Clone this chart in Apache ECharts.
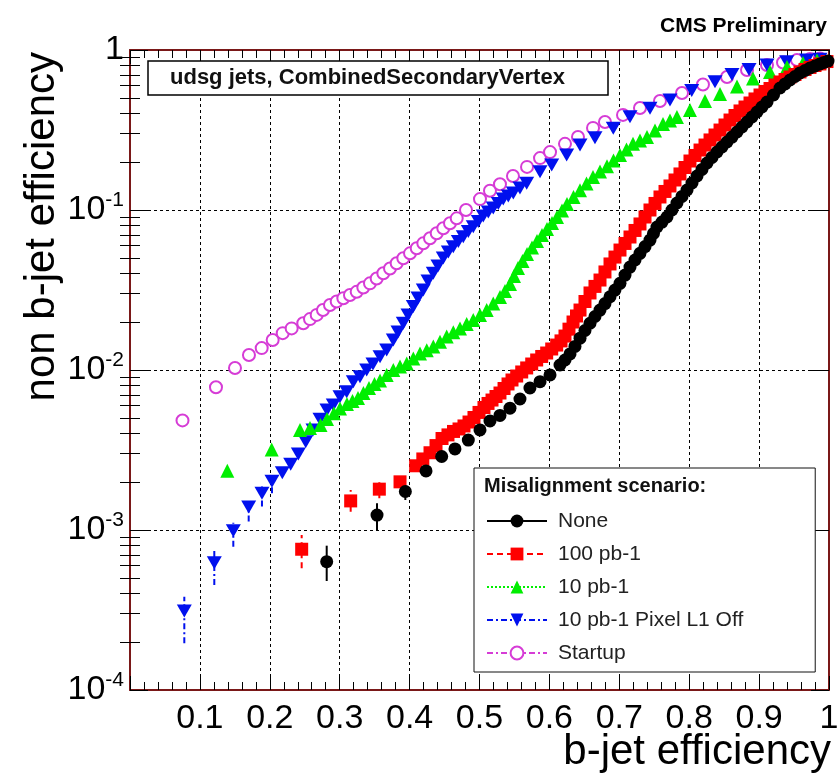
<!DOCTYPE html>
<html>
<head>
<meta charset="utf-8">
<script src="https://cdn.jsdelivr.net/npm/echarts@6/dist/echarts.min.js"></script>
<style>
  html, body { margin: 0; padding: 0; background: #fff; }
  #main { width: 837px; height: 778px; }
</style>
</head>
<body>
<div id="main"></div>
<script>
// [b-jet efficiency, non b-jet efficiency]
var noneData = [[0.2814,0.000634],[0.3534,0.00124],[0.3939,0.00174],[0.4235,0.00234],[0.4459,0.00288],[0.4649,0.00321],
  [0.4840,0.00365],[0.5007,0.00422],[0.5150,0.0048],[0.5293,0.0052],[0.5436,0.00577],[0.5579,0.00659],[0.5722,0.00772],
  [0.5866,0.00845],[0.6009,0.00931],[0.6152,0.01075],[0.6223,0.01155],[0.6295,0.0126],[0.6366,0.01403],[0.6438,0.0158],
  [0.6509,0.01766],[0.6581,0.0196],[0.6652,0.0216],[0.6724,0.0237],[0.6795,0.026],[0.6867,0.0287],[0.6938,0.0316],
  [0.7010,0.0348],[0.7082,0.0392],[0.7153,0.044],[0.7225,0.0487],[0.7296,0.0536],[0.7368,0.0591],[0.7439,0.0649],
  [0.7489,0.0713],[0.7539,0.0783],[0.7611,0.0841],[0.7682,0.0904],[0.7754,0.1],[0.7825,0.1106],[0.7897,0.1215],
  [0.7969,0.1334],[0.8040,0.1475],[0.8112,0.1631],[0.8183,0.1792],[0.8255,0.1967],[0.8326,0.213],[0.8398,0.2304],
  [0.8469,0.2477],[0.8541,0.2661],[0.8612,0.2858],[0.8684,0.3073],[0.8755,0.3303],[0.8827,0.3548],[0.8898,0.3814],
  [0.8970,0.4097],[0.9041,0.4402],[0.9113,0.4732],[0.9206,0.5233],[0.9299,0.5786],[0.9371,0.6134],[0.9442,0.6494],
  [0.9514,0.6829],[0.9585,0.7186],[0.9657,0.7443],[0.9728,0.7718],[0.9800,0.7943],[0.9871,0.818],[0.9928,0.8353],
  [0.9986,0.853]];
var noneErr = [[0.2814,0.00048,0.000798],[0.3534,0.001,0.00147],[0.3939,0.00154,0.00191]];

var hundredData = [[0.2456,0.000758],[0.3157,0.00152],[0.3567,0.0018],[0.3863,0.002],[0.4087,0.00252],[0.4189,0.00278],
  [0.4292,0.00304],[0.4378,0.00337],[0.4464,0.00373],[0.4549,0.00393],[0.4628,0.00413],[0.4707,0.00428],[0.4778,0.00447],
  [0.4850,0.00473],[0.4921,0.00505],[0.4993,0.00543],[0.5064,0.00583],[0.5122,0.00618],[0.5179,0.00649],[0.5236,0.00683],
  [0.5293,0.00718],[0.5351,0.00766],[0.5408,0.00818],[0.5465,0.00866],[0.5532,0.00917],[0.5604,0.00972],[0.5675,0.0103],
  [0.5747,0.0109],[0.5818,0.01155],[0.5890,0.01215],[0.5961,0.01277],[0.6033,0.01353],[0.6104,0.01432],[0.6166,0.0152],
  [0.6223,0.0163],[0.6280,0.018],[0.6338,0.01995],[0.6388,0.02176],[0.6438,0.0237],[0.6509,0.0268],[0.6581,0.0303],
  [0.6652,0.0333],[0.6724,0.0365],[0.6795,0.041],[0.6867,0.046],[0.6938,0.0508],[0.7010,0.0562],[0.7082,0.0618],
  [0.7153,0.0678],[0.7225,0.0745],[0.7296,0.0818],[0.7368,0.0904],[0.7439,0.1],[0.7511,0.1099],[0.7582,0.1206],
  [0.7654,0.1306],[0.7725,0.1413],[0.7797,0.154],[0.7868,0.168],[0.7940,0.1844],[0.8011,0.2024],[0.8083,0.2192],
  [0.8155,0.237],[0.8226,0.2547],[0.8298,0.274],[0.8369,0.2942],[0.8441,0.316],[0.8512,0.3398],[0.8584,0.365],
  [0.8655,0.3896],[0.8727,0.4159],[0.8798,0.4402],[0.8870,0.4664],[0.8941,0.4943],[0.9013,0.5233],[0.9084,0.5506],
  [0.9156,0.5744],[0.9227,0.6043],[0.9299,0.631],[0.9371,0.6543],[0.9442,0.678],[0.9514,0.7031],[0.9585,0.729],
  [0.9657,0.7551],[0.9728,0.778],[0.9800,0.800],[0.9871,0.818],[0.9971,0.847]];
var hundredErr = [[0.2456,0.000576,0.000931],[0.3157,0.0013,0.00178],[0.3567,0.00158,0.00205]];

var tenData = [[0.1392,0.00235],[0.2027,0.00319],[0.2432,0.00422],[0.2575,0.00434],[0.2725,0.00453],[0.2818,0.00494],
  [0.2918,0.00536],[0.3004,0.00575],[0.3104,0.00613],[0.3183,0.0064],[0.3262,0.00668],[0.3340,0.00718],[0.3419,0.00772],
  [0.3498,0.00818],[0.3577,0.0086],[0.3672,0.00931],[0.3767,0.01],[0.3863,0.0105],[0.3959,0.011],[0.4053,0.0118],
  [0.4149,0.0127],[0.4245,0.0133],[0.4339,0.014],[0.4435,0.015],[0.4531,0.0162],[0.4625,0.0172],[0.4721,0.0182],
  [0.4817,0.0194],[0.4911,0.0205],[0.5007,0.0221],[0.5103,0.0237],[0.5197,0.026],[0.5293,0.0286],[0.5365,0.0312],
  [0.5436,0.0345],[0.5494,0.0387],[0.5551,0.0434],[0.5615,0.048],[0.5680,0.0531],[0.5751,0.0583],[0.5823,0.064],
  [0.5894,0.0698],[0.5966,0.0761],[0.6037,0.0829],[0.6109,0.0904],[0.6180,0.0993],[0.6252,0.109],[0.6345,0.1206],
  [0.6438,0.133],[0.6531,0.1465],[0.6624,0.161],[0.6724,0.174],[0.6824,0.188],[0.6917,0.2039],[0.7010,0.221],
  [0.7103,0.2388],[0.7196,0.259],[0.7296,0.2718],[0.7396,0.286],[0.7511,0.314],[0.7625,0.345],[0.7725,0.3624],
  [0.7825,0.381],[0.8011,0.422],[0.8226,0.480],[0.8441,0.531],[0.8684,0.592],[0.8913,0.663],[0.9156,0.729],
  [0.9399,0.783],[0.9628,0.829],[0.9828,0.860]];

var pixelOffData = [[0.0777,0.000312],[0.1206,0.000625],[0.1478,0.00099],[0.1698,0.00139],[0.1888,0.0017],[0.2031,0.00202],
  [0.2179,0.00228],[0.2299,0.00258],[0.2408,0.00299],[0.2514,0.00356],[0.2618,0.00422],[0.2718,0.00492],[0.2818,0.00562],
  [0.2908,0.00604],[0.3004,0.00681],[0.3100,0.00732],[0.3195,0.00845],[0.3290,0.00908],[0.3386,0.01],[0.3476,0.0109],
  [0.3577,0.0121],[0.3672,0.01334],[0.3767,0.0154],[0.3834,0.01728],[0.3910,0.0196],[0.3977,0.0221],[0.4053,0.0249],
  [0.4120,0.0282],[0.4196,0.0316],[0.4263,0.036],[0.4339,0.0402],[0.4406,0.0447],[0.4482,0.0501],[0.4554,0.0546],
  [0.4625,0.059],[0.4697,0.0636],[0.4768,0.0681],[0.4840,0.0734],[0.4911,0.0787],[0.4983,0.0848],[0.5054,0.0917],
  [0.5126,0.0972],[0.5197,0.1029],[0.5269,0.1099],[0.5340,0.1172],[0.5412,0.1224],[0.5484,0.1277],[0.5579,0.1373],
  [0.5675,0.1468],[0.5866,0.1735],[0.6033,0.191],[0.6247,0.2208],[0.6438,0.2547],[0.6652,0.283],[0.6914,0.3243],
  [0.7153,0.383],[0.7439,0.4325],[0.7725,0.487],[0.8036,0.558],[0.8369,0.634],[0.8612,0.703],[0.8856,0.755],
  [0.9113,0.806],[0.9395,0.845],[0.9681,0.866],[0.9871,0.875]];
var pixelOffErr = [[0.0777,0.000196,0.000383],[0.1206,0.000453,0.00075],[0.1478,0.000787,0.00111],
  [0.1698,0.00113,0.0015],[0.1888,0.0014,0.00187],[0.2031,0.0017,0.00221]];

var startupData = [[0.0751,0.00484],[0.1230,0.0078],[0.1502,0.0103],[0.1702,0.0124],[0.1884,0.0137],[0.2041,0.0154],
  [0.2185,0.0170],[0.2313,0.0182],[0.2479,0.0196],[0.2575,0.0208],[0.2671,0.0221],[0.2761,0.0237],[0.2861,0.0255],
  [0.2957,0.0268],[0.3052,0.0281],[0.3147,0.0294],[0.3243,0.0308],[0.3338,0.0328],[0.3433,0.0348],[0.3529,0.0373],
  [0.3624,0.0402],[0.3720,0.0431],[0.3815,0.0465],[0.3910,0.0499],[0.4006,0.0536],[0.4102,0.0577],[0.4196,0.0619],
  [0.4292,0.0666],[0.4388,0.0715],[0.4482,0.0769],[0.4578,0.0826],[0.4674,0.0887],[0.4807,0.100],[0.5007,0.117],
  [0.5150,0.132],[0.5293,0.145],[0.5479,0.163],[0.5680,0.186],[0.5866,0.211],[0.6009,0.230],[0.6223,0.259],
  [0.6409,0.286],[0.6624,0.326],[0.6795,0.355],[0.7053,0.393],[0.7296,0.434],[0.7582,0.480],[0.7897,0.539],
  [0.8197,0.609],[0.8541,0.678],[0.8827,0.750],[0.9113,0.806],[0.9342,0.835],[0.9542,0.866],[0.9728,0.878],
  [0.9871,0.885]];

var legendNames = ['None', '100 pb-1', '10 pb-1', '10 pb-1 Pixel L1 Off', 'Startup'];

var FONT = 'Arial, "Liberation Sans", Helvetica, sans-serif';
var frameColor = '#7a1818';
var cBlack = '#000000', cRed = '#ff0000', cGreen = '#00ee00', cBlue = '#0010ee', cMagenta = '#d63cd6';
var dashed = [6, 4], dotted = [2, 2], dashDot = [6, 3, 2, 3];

// minor ticks of the log axis, as exponents
var minorExp = [];
for (var k = -4; k < 0; k++) {
  for (var m = 2; m <= 9; m++) minorExp.push(k + Math.log10(m));
}

var myChart = echarts.init(document.getElementById('main'));

function markers(name, data, symbol, size, color, z) {
  return {
    name: name, type: 'line', data: data, z: z,
    symbol: symbol, symbolSize: size, showAllSymbol: true,
    lineStyle: { width: 0, opacity: 0 },
    itemStyle: { color: color, borderWidth: symbol === 'emptyCircle' ? 1.2 : 0, borderColor: color },
    emphasis: { disabled: true }, silent: true
  };
}

function errors(name, data, color, dash, z) {
  return {
    name: name, type: 'custom', data: data, z: z, silent: true,
    encode: { x: 0, y: [1, 2] },
    renderItem: function (params, api) {
      var a = api.coord([api.value(0), api.value(1)]);
      var b = api.coord([api.value(0), api.value(2)]);
      return {
        type: 'line',
        shape: { x1: a[0], y1: a[1], x2: b[0], y2: b[1] },
        style: { stroke: color, lineWidth: 2, lineDash: dash }
      };
    }
  };
}

function legendItem(name, color, dash) {
  return { name: name, lineStyle: { color: color, width: 2, type: dash, opacity: 1 } };
}

var gridDash = { color: '#000', width: 1, type: [3, 3] };

var xCommon = {
  type: 'value', min: 0, max: 1, interval: 0.1, gridIndex: 0,
  axisLine: { show: true, onZero: false, lineStyle: { color: frameColor, width: 2 } },
  axisTick: { show: true, inside: true, length: 14, lineStyle: { color: '#000', width: 1 } },
  minorTick: { show: true, splitNumber: 5, length: 8, lineStyle: { color: '#000', width: 1 } }
};

var option = {
  animation: false,
  backgroundColor: '#fff',
  grid: { left: 130, right: 8, top: 50, bottom: 88, containLabel: false, outerBoundsMode: 'none' },
  title: [
    {
      text: 'CMS Preliminary', right: 5, top: 11, z: 20,
      textStyle: { fontSize: 21, fontWeight: 'bold', fontFamily: FONT, color: '#000' }
    },
    {
      text: 'udsg jets, CombinedSecondaryVertex', left: 148, top: 61, z: 20,
      padding: [6, 43, 6, 22], borderColor: '#000', borderWidth: 1.5, backgroundColor: '#fff',
      textStyle: { fontSize: 22, lineHeight: 22, fontWeight: 'bold', fontFamily: FONT, color: '#111' }
    },
    {
      text: 'Misalignment scenario:', left: 484, top: 476, z: 30, padding: 0,
      textStyle: { fontSize: 20, fontWeight: 'bold', fontFamily: FONT, color: '#111' }
    }
  ],
  legend: {
    orient: 'vertical', left: 474, top: 468, z: 25,
    padding: [42, 72, 8, 12],
    backgroundColor: '#fff', borderColor: '#111', borderWidth: 1,
    itemWidth: 60, itemHeight: 16, itemGap: 11,
    selectedMode: false,
    textStyle: { fontSize: 21, lineHeight: 22, color: '#222', fontFamily: FONT, padding: [0, 0, 0, 6] },
    data: [
      legendItem(legendNames[0], cBlack, 'solid'),
      legendItem(legendNames[1], cRed, dashed),
      legendItem(legendNames[2], cGreen, dotted),
      legendItem(legendNames[3], cBlue, dashDot),
      legendItem(legendNames[4], cMagenta, dashDot)
    ]
  },
  xAxis: [
    echarts.util.merge({
      position: 'bottom',
      axisLabel: {
        show: true, margin: 12, fontSize: 34, fontFamily: FONT, color: '#000', showMaxLabel: true,
        formatter: function (v) { return v === 0 ? '' : String(Math.round(v * 10) / 10); }
      },
      splitLine: { show: true, showMinLine: false, showMaxLine: false, lineStyle: gridDash }
    }, xCommon, true),
    echarts.util.merge({
      position: 'top', axisLabel: { show: false }, splitLine: { show: false }
    }, xCommon, true)
  ],
  yAxis: [
    {
      type: 'log', logBase: 10, min: 0.0001, max: 1, position: 'left', gridIndex: 0,
      axisLine: { show: true, onZero: false, lineStyle: { color: frameColor, width: 2 } },
      axisTick: { show: true, inside: true, length: 18, lineStyle: { color: '#000', width: 1 } },
      axisLabel: {
        margin: 6, showMinLabel: true, showMaxLabel: true,
        formatter: function (v) {
          var e = Math.round(Math.log10(v));
          return e === 0 ? '{b|1}' : '{b|10}{s|' + e + '}';
        },
        rich: {
          b: { fontSize: 34, lineHeight: 40, fontFamily: FONT, color: '#000' },
          s: { fontSize: 21, lineHeight: 22, verticalAlign: 'top', fontFamily: FONT, color: '#000' }
        }
      },
      splitLine: { show: true, showMinLine: false, showMaxLine: false, lineStyle: gridDash }
    },
    {
      type: 'log', logBase: 10, min: 0.0001, max: 1, position: 'right', gridIndex: 0,
      axisLine: { show: true, onZero: false, lineStyle: { color: frameColor, width: 2 } },
      axisTick: { show: true, inside: true, length: 18, lineStyle: { color: '#000', width: 1 } },
      axisLabel: { show: false }, splitLine: { show: false }
    },
    {
      type: 'value', min: -4, max: 0, position: 'left', gridIndex: 0,
      axisLine: { show: false },
      axisTick: { show: true, inside: true, length: 10, customValues: minorExp, lineStyle: { color: '#000', width: 1 } },
      axisLabel: { show: false }, splitLine: { show: false }
    },
    {
      type: 'value', min: -4, max: 0, position: 'right', gridIndex: 0,
      axisLine: { show: false },
      axisTick: { show: true, inside: true, length: 10, customValues: minorExp, lineStyle: { color: '#000', width: 1 } },
      axisLabel: { show: false }, splitLine: { show: false }
    }
  ],
  graphic: [
    {
      type: 'text', x: 42, y: 52, rotation: Math.PI / 2, z: 20,
      style: {
        text: 'non b-jet efficiency', fontSize: 42, fontFamily: FONT, fill: '#000',
        align: 'right', textAlign: 'right', verticalAlign: 'middle', textVerticalAlign: 'middle'
      }
    },
    {
      type: 'text', x: 831, y: 752, z: 20,
      style: {
        text: 'b-jet efficiency', fontSize: 42, fontFamily: FONT, fill: '#000',
        align: 'right', textAlign: 'right', verticalAlign: 'middle', textVerticalAlign: 'middle'
      }
    }
  ],
  series: [
    markers(legendNames[4], startupData, 'emptyCircle', 12, cMagenta, 3),
    markers(legendNames[3], pixelOffData, 'path://M0,0L20,0L10,17Z', [15, 13], cBlue, 4),
    markers(legendNames[2], tenData, 'triangle', 14, cGreen, 5),
    markers(legendNames[1], hundredData, 'rect', 13, cRed, 6),
    markers(legendNames[0], noneData, 'circle', 13, cBlack, 7),
    errors('pixelOffErr', pixelOffErr, cBlue, dashDot, 2),
    errors('hundredErr', hundredErr, cRed, dashed, 2),
    errors('noneErr', noneErr, cBlack, null, 2)
  ]
};

myChart.setOption(option);
</script>
</body>
</html>
